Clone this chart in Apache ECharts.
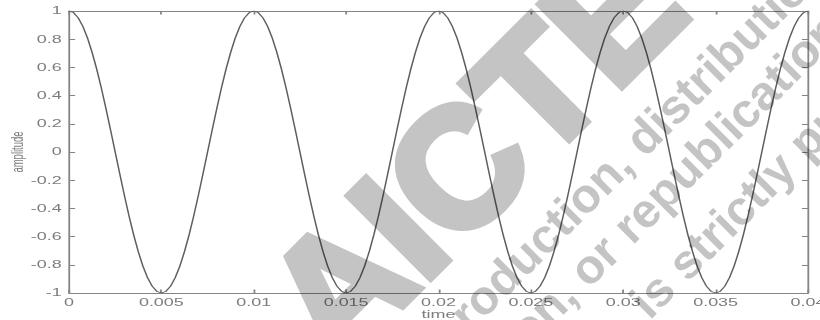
<!DOCTYPE html>
<html>
<head>
<meta charset="utf-8">
<script src="https://cdn.jsdelivr.net/npm/echarts@6/dist/echarts.min.js"></script>
<style>
html,body{margin:0;padding:0;background:#fff;overflow:hidden;}
#wrap{position:relative;width:820px;height:320px;overflow:hidden;background:#fff;}
#chart{position:absolute;left:0;top:0;width:456px;height:320px;transform:scaleX(1.79825);transform-origin:0 0;}
#wm{position:absolute;left:0;top:0;width:820px;height:320px;mix-blend-mode:multiply;pointer-events:none;}
</style>
</head>
<body>
<div id="wrap"><div id="chart"></div><div id="wm"></div></div>
<script>
// time axis samples (s)
const times = [
0, 0.00025, 0.0005, 0.00075, 0.001, 0.00125, 0.0015, 0.00175, 0.002, 0.00225,
0.0025, 0.00275, 0.003, 0.00325, 0.0035, 0.00375, 0.004, 0.00425, 0.0045, 0.00475,
0.005, 0.00525, 0.0055, 0.00575, 0.006, 0.00625, 0.0065, 0.00675, 0.007, 0.00725,
0.0075, 0.00775, 0.008, 0.00825, 0.0085, 0.00875, 0.009, 0.00925, 0.0095, 0.00975,
0.01, 0.01025, 0.0105, 0.01075, 0.011, 0.01125, 0.0115, 0.01175, 0.012, 0.01225,
0.0125, 0.01275, 0.013, 0.01325, 0.0135, 0.01375, 0.014, 0.01425, 0.0145, 0.01475,
0.015, 0.01525, 0.0155, 0.01575, 0.016, 0.01625, 0.0165, 0.01675, 0.017, 0.01725,
0.0175, 0.01775, 0.018, 0.01825, 0.0185, 0.01875, 0.019, 0.01925, 0.0195, 0.01975,
0.02, 0.02025, 0.0205, 0.02075, 0.021, 0.02125, 0.0215, 0.02175, 0.022, 0.02225,
0.0225, 0.02275, 0.023, 0.02325, 0.0235, 0.02375, 0.024, 0.02425, 0.0245, 0.02475,
0.025, 0.02525, 0.0255, 0.02575, 0.026, 0.02625, 0.0265, 0.02675, 0.027, 0.02725,
0.0275, 0.02775, 0.028, 0.02825, 0.0285, 0.02875, 0.029, 0.02925, 0.0295, 0.02975,
0.03, 0.03025, 0.0305, 0.03075, 0.031, 0.03125, 0.0315, 0.03175, 0.032, 0.03225,
0.0325, 0.03275, 0.033, 0.03325, 0.0335, 0.03375, 0.034, 0.03425, 0.0345, 0.03475,
0.035, 0.03525, 0.0355, 0.03575, 0.036, 0.03625, 0.0365, 0.03675, 0.037, 0.03725,
0.0375, 0.03775, 0.038, 0.03825, 0.0385, 0.03875, 0.039, 0.03925, 0.0395, 0.03975,
0.04
];
// amplitude
const amplitude = [
1, 0.988, 0.951, 0.891, 0.809, 0.707, 0.588, 0.454, 0.309, 0.156,
0, -0.156, -0.309, -0.454, -0.588, -0.707, -0.809, -0.891, -0.951, -0.988,
-1, -0.988, -0.951, -0.891, -0.809, -0.707, -0.588, -0.454, -0.309, -0.156,
0, 0.156, 0.309, 0.454, 0.588, 0.707, 0.809, 0.891, 0.951, 0.988,
1, 0.988, 0.951, 0.891, 0.809, 0.707, 0.588, 0.454, 0.309, 0.156,
0, -0.156, -0.309, -0.454, -0.588, -0.707, -0.809, -0.891, -0.951, -0.988,
-1, -0.988, -0.951, -0.891, -0.809, -0.707, -0.588, -0.454, -0.309, -0.156,
0, 0.156, 0.309, 0.454, 0.588, 0.707, 0.809, 0.891, 0.951, 0.988,
1, 0.988, 0.951, 0.891, 0.809, 0.707, 0.588, 0.454, 0.309, 0.156,
0, -0.156, -0.309, -0.454, -0.588, -0.707, -0.809, -0.891, -0.951, -0.988,
-1, -0.988, -0.951, -0.891, -0.809, -0.707, -0.588, -0.454, -0.309, -0.156,
0, 0.156, 0.309, 0.454, 0.588, 0.707, 0.809, 0.891, 0.951, 0.988,
1, 0.988, 0.951, 0.891, 0.809, 0.707, 0.588, 0.454, 0.309, 0.156,
0, -0.156, -0.309, -0.454, -0.588, -0.707, -0.809, -0.891, -0.951, -0.988,
-1, -0.988, -0.951, -0.891, -0.809, -0.707, -0.588, -0.454, -0.309, -0.156,
0, 0.156, 0.309, 0.454, 0.588, 0.707, 0.809, 0.891, 0.951, 0.988,
1
];
const xTickLabels = ['0','0.005','0.01','0.015','0.02','0.025','0.03','0.035','0.04'];
const yTickLabels = ['-1','-0.8','-0.6','-0.4','-0.2','0','0.2','0.4','0.6','0.8','1'];
const xName = 'time';
const yName = 'amplitude';
const watermarkBig = 'AICTE';
const watermarkLines = ['Reproduction, distribution', 'distribution, or republication', 'is strictly prohibited'];

const SX = 820 / 456;
const axisColor = '#858585';
const labelColor = '#7c7c7c';
const font = '"Liberation Sans", Arial, sans-serif';

const chart = echarts.init(document.getElementById('chart'), null, {renderer: 'svg'});
const baseX = {
  type: 'value', min: 0, max: 0.04, interval: 0.005,
  axisLine: {show: true, onZero: false, lineStyle: {color: axisColor, width: 1}},
  axisTick: {show: true, inside: true, length: 3.5, lineStyle: {color: axisColor}},
  splitLine: {show: false}
};
const baseY = {
  type: 'value', min: -1, max: 1, interval: 0.2,
  axisLine: {show: true, onZero: false, lineStyle: {color: axisColor, width: 1}},
  axisTick: {show: true, inside: true, length: 3.4, lineStyle: {color: axisColor}},
  splitLine: {show: false}
};
chart.setOption({
  animation: false,
  backgroundColor: '#fff',
  grid: {left: 69 / SX, right: 12 / SX, top: 11, bottom: 27, containLabel: false, outerBoundsMode: 'none'},
  xAxis: [
    Object.assign({}, baseX, {
      position: 'bottom',
      name: xName, nameLocation: 'middle', nameGap: 17, nameMoveOverlap: false,
      nameTextStyle: {fontFamily: font, fontSize: 10, color: labelColor},
      axisLabel: {show: true, margin: 5, fontFamily: font, fontSize: 10, color: labelColor,
        formatter: (v, i) => xTickLabels[i]}
    }),
    Object.assign({}, baseX, {position: 'top', axisLabel: {show: false}})
  ],
  yAxis: [
    Object.assign({}, baseY, {
      position: 'left',
      name: yName, nameLocation: 'middle', nameGap: 24, nameRotate: 90, nameMoveOverlap: false,
      nameTextStyle: {fontFamily: font, fontSize: 9.5, color: labelColor},
      axisLabel: {show: true, margin: 4, fontFamily: font, fontSize: 10, color: labelColor,
        formatter: (v, i) => yTickLabels[i]}
    }),
    Object.assign({}, baseY, {position: 'right', axisLabel: {show: false}})
  ],
  series: [{
    type: 'line',
    xAxisIndex: 0, yAxisIndex: 0,
    data: times.map((t, i) => [t, amplitude[i]]),
    showSymbol: false,
    clip: false,
    lineStyle: {color: '#5e5e5e', width: 0.85}
  }]
});

// watermark overlay (not stretched)
const wm = echarts.init(document.getElementById('wm'), null, {renderer: 'svg'});
const wmColor = '#c4c4c4';
const rot = Math.PI / 4;
function wmText(text, x, y, size, align) {
  return {
    type: 'text', x: x, y: y, rotation: rot,
    style: {text: text, fill: wmColor, font: 'bold ' + size + 'px ' + font,
      align: align, verticalAlign: 'middle', textAlign: align, textVerticalAlign: 'middle'}
  };
}
const big = wmText(watermarkBig, 474, 152, 168, 'center');
big.style.stroke = wmColor; big.style.lineWidth = 8;
wm.setOption({
  animation: false,
  backgroundColor: 'transparent',
  graphic: [
    big,
    wmText(watermarkLines[0], 394, 386, 48, 'left'),
    wmText(watermarkLines[1], 372, 483, 48, 'left'),
    wmText(watermarkLines[2], 638, 309, 48, 'left')
  ]
});
</script>
</body>
</html>
